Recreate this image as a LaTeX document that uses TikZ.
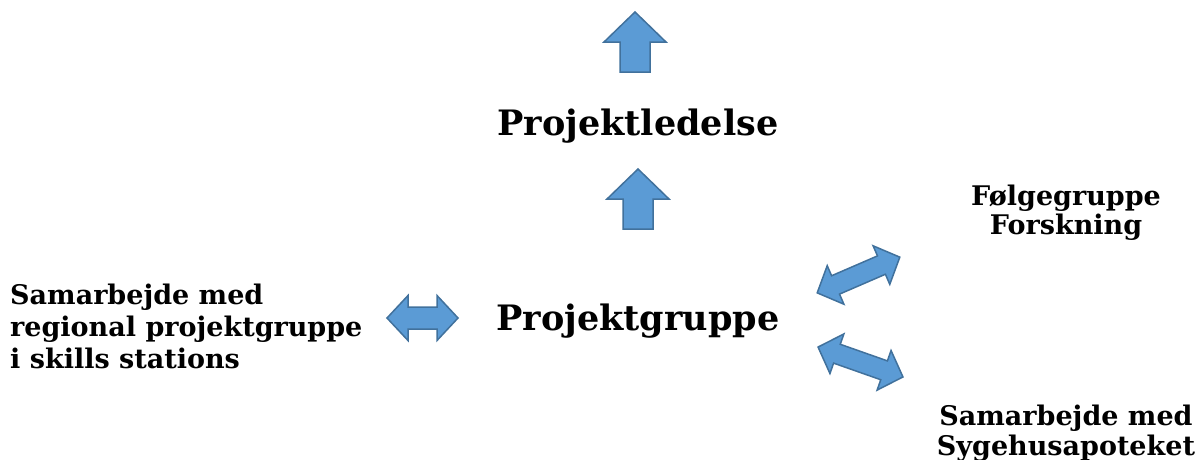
\documentclass[tikz,border=0pt]{standalone}
\usepackage{fontspec}
\setmainfont{DejaVu Serif}
\definecolor{arrfill}{HTML}{5B9BD5}
\definecolor{arrline}{HTML}{41719C}
\tikzset{
  blk/.style={fill=arrfill, draw=arrline, line width=1.5pt, line join=miter},
  bigtxt/.style={font=\fontsize{35}{42}\selectfont\bfseries, inner sep=0pt},
  smalltxt/.style={font=\fontsize{27}{32}\selectfont\bfseries, inner sep=0pt},
  pics/uparr/.style={code={
    \draw[blk] (0,-30)--(31,0)--(15,0)--(15,30)--(-15,30)--(-15,0)--(-31,0)--cycle;}},
  pics/dblarr/.style n args={4}{code={% half length, head length, head half width, shaft half width
    \draw[blk] (-#1,0)--(-#1+#2,-#3)--(-#1+#2,-#4)--(#1-#2,-#4)--(#1-#2,-#3)--(#1,0)
      --(#1-#2,#3)--(#1-#2,#4)--(-#1+#2,#4)--(-#1+#2,#3)--cycle;}}
}
\begin{document}
\begin{tikzpicture}[x=1pt,y=-1pt]
\useasboundingbox (0,0) rectangle (1197,459);
% block arrows
\pic at (635,42) {uparr};
\pic at (638,199) {uparr};
\pic at (422.5,318) {dblarr={35.5}{21}{22.5}{11}};
\pic[rotate=23.4] at (858.5,275) {dblarr={45}{20}{21}{10}};
\pic[rotate=-19.4] at (860.5,362) {dblarr={45}{20}{21}{10}};
% labels
\node[bigtxt, anchor=base] (ledelse) at (638,135) {Projektledelse};
\node[bigtxt, anchor=base] (gruppe) at (638,330) {Projektgruppe};
\node[smalltxt, anchor=base west, align=left] (regional) at (10,368)
  {Samarbejde med\\regional projektgruppe\\i skills stations};
\node[smalltxt, anchor=base, align=center, font=\fontsize{27}{29}\selectfont\bfseries] (folge) at (1066,234)
  {Følgegruppe\\Forskning};
\node[smalltxt, anchor=base, align=center, font=\fontsize{27}{30}\selectfont\bfseries] (apotek) at (1066,455)
  {Samarbejde med\\Sygehusapoteket};
\end{tikzpicture}
\end{document}
